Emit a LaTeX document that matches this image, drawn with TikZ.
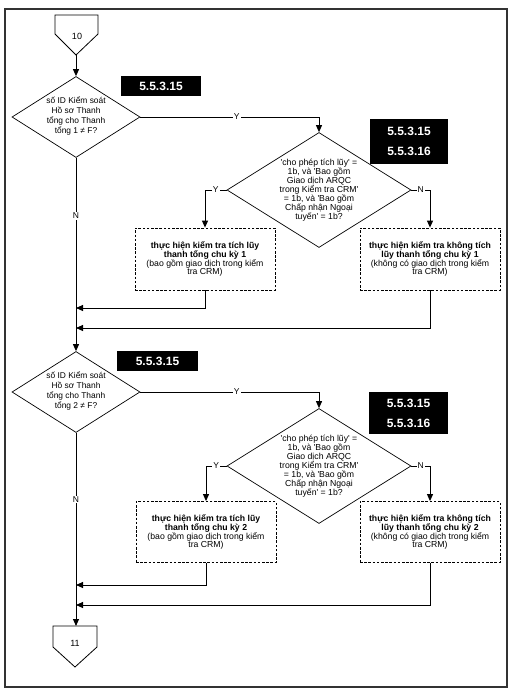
\documentclass[tikz,border=0pt]{standalone}
\usepackage{fontspec}
\setmainfont{Liberation Sans}
\usetikzlibrary{shapes.geometric,arrows.meta}
\begin{document}
\begin{tikzpicture}[x=1pt,y=-1pt,
  line/.style={line width=0.9pt},
  arr/.style={line,-{Triangle[length=7pt,width=6pt]}},
  dia/.style={diamond,draw,line width=0.7pt,inner sep=0pt},
  diaA/.style={dia,minimum width=128pt,minimum height=81pt},
  diaB/.style={dia,minimum width=184pt,minimum height=115pt},
  dtxt/.style={align=center,font=\fontsize{8.4}{9.8}\selectfont,inner sep=0pt},
  dtxtB/.style={align=center,font=\fontsize{8.7}{9.1}\selectfont,inner sep=0pt},
  procbox/.style={draw,dash pattern=on 2.6pt off 1.6pt,line width=0.8pt,minimum width=140pt,minimum height=62pt,align=center,font=\fontsize{8.7}{8.9}\selectfont,inner sep=0pt},
  tag/.style={fill=black,text=white,font=\fontsize{12}{20}\selectfont\bfseries,align=center,inner sep=0pt,minimum width=80pt,minimum height=20pt},
  lab/.style={fill=white,inner sep=1pt,font=\fontsize{8.5}{10}\selectfont},
  page/.style={line width=0.8pt}]
\useasboundingbox (0,0) rectangle (513,693);
\draw[line width=1.8pt,black!80] (5,9) rectangle (507,687);

% off-page connector 10
\draw[page] (55,15) -- (98,15) -- (98,34) -- (76,55) -- (55,34) -- cycle;
\node[font=\fontsize{9}{11}\selectfont] (c10) at (77,36) {10};
\coordinate (c10tip) at (76,55);

% first block
\node[diaA] (d1) at (76,117) {};
\node[dtxt] (d1t) at (76,116) {số ID Kiểm soát\\Hồ sơ Thanh\\tổng cho Thanh\\tổng 1 ≠ F?};
\node[tag] (t1) at (161,86) {5.5.3.15};
\node[tag,minimum width=78pt,minimum height=45pt] (t2) at (409,141.5) {5.5.3.15\\5.5.3.16};
\node[diaB] (d2) at (319,190) {};
\node[dtxtB] (d2t) at (319,190) {\textquotesingle cho phép tích lũy\textquotesingle\ =\\1b, và \textquotesingle Bao gồm\\Giao dịch ARQC\\trong Kiểm tra CRM\textquotesingle\\= 1b, và \textquotesingle Bao gồm\\Chấp nhận Ngoại\\tuyến\textquotesingle\ = 1b?};
\node[procbox] (b1) at (205,259) {{\bfseries thực hiện kiểm tra tích lũy}\\{\bfseries thanh tổng chu kỳ 1}\\(bao gồm giao dịch trong kiểm\\tra CRM)};
\node[procbox] (b2) at (430,259) {{\bfseries thực hiện kiểm tra không tích}\\{\bfseries lũy thanh tổng chu kỳ 1}\\(không có giao dịch trong kiểm\\tra CRM)};
\coordinate (m1) at (76,308);
\coordinate (m2) at (76,328);

\draw[arr] (c10tip) -- (d1.north);
\draw[arr] (d1.east) -- node[lab,pos=0.54]{Y} (d1.east -| d2.north) -- (d2.north);
\draw[arr] (d2.west) -- node[lab]{Y} (d2.west -| b1.north) -- (b1.north);
\draw[arr] (d2.east) -- node[lab]{N} (d2.east -| b2.north) -- (b2.north);
\draw[arr] (b1.south) -- (b1.south |- m1) -- (m1);
\draw[arr] (b2.south) -- (b2.south |- m2) -- (m2);

% second block
\node[diaA] (d3) at (76,392) {};
\node[dtxt] (d3t) at (76,391) {số ID Kiểm soát\\Hồ sơ Thanh\\tổng cho Thanh\\tổng 2 ≠ F?};
\draw[arr] (d1.south) -- node[lab,pos=0.3]{N} (d3.north);
\node[tag,minimum width=81pt] (t3) at (157.5,361) {5.5.3.15};
\node[tag,minimum width=79pt,minimum height=42pt] (t4) at (408.5,413) {5.5.3.15\\5.5.3.16};
\node[diaB] (d4) at (319,466) {};
\node[dtxtB] (d4t) at (319,466) {\textquotesingle cho phép tích lũy\textquotesingle\ =\\1b, và \textquotesingle Bao gồm\\Giao dịch ARQC\\trong Kiểm tra CRM\textquotesingle\\= 1b, và \textquotesingle Bao gồm\\Chấp nhận Ngoại\\tuyến\textquotesingle\ = 1b?};
\node[procbox,minimum height=61pt] (b3) at (206,532) {{\bfseries thực hiện kiểm tra tích lũy}\\{\bfseries thanh tổng chu kỳ 2}\\(bao gồm giao dịch trong kiểm\\tra CRM)};
\node[procbox,minimum height=61pt] (b4) at (430,532) {{\bfseries thực hiện kiểm tra không tích}\\{\bfseries lũy thanh tổng chu kỳ 2}\\(không có giao dịch trong kiểm\\tra CRM)};
\coordinate (m3) at (76,585);
\coordinate (m4) at (76,605);

\draw[arr] (d3.east) -- node[lab,pos=0.54]{Y} (d3.east -| d4.north) -- (d4.north);
\draw[arr] (d4.west) -- node[lab]{Y} (d4.west -| b3.north) -- (b3.north);
\draw[arr] (d4.east) -- node[lab]{N} (d4.east -| b4.north) -- (b4.north);
\draw[arr] (b3.south) -- (b3.south |- m3) -- (m3);
\draw[arr] (b4.south) -- (b4.south |- m4) -- (m4);

% off-page connector 11
\draw[page] (53,626) -- (97,626) -- (97,647) -- (75,667) -- (53,647) -- cycle;
\node[font=\fontsize{9}{11}\selectfont] (c11) at (75,643) {11};
\coordinate (c11top) at (76,626);
\draw[arr] (d3.south) -- node[lab,pos=0.345]{N} (c11top);
\end{tikzpicture}
\end{document}
